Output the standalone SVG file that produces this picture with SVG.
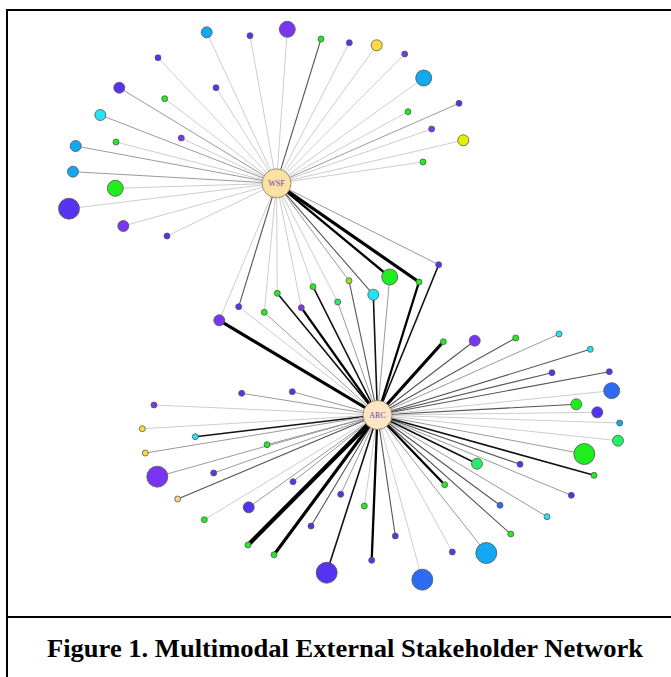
<svg xmlns="http://www.w3.org/2000/svg" width="671" height="677" viewBox="0 0 671 677">
<style>
.e1{stroke:#cdcdcd;stroke-width:1}
.e2{stroke:#9a9a9a;stroke-width:1}
.e3{stroke:#555;stroke-width:1.1}
.e4{stroke:#111;stroke-width:1.6}
.e5{stroke:#000;stroke-width:2.3}
.e6{stroke:#000;stroke-width:3.2}
.e7{stroke:#000;stroke-width:4.2}
circle{stroke:#555;stroke-width:0.8}
.bp{fill:#5533f0}.pu{fill:#7a35f0}.sk{fill:#12a8f2}.cy{fill:#22e4f2}.gr{fill:#1eee1e}.g2{fill:#22ee6a}.lg{fill:#8ee624}
.ye{fill:#ffdc3a}.li{fill:#e2f000}.rb{fill:#2c6cf2}.or{fill:#fcd27a}
.hub1{fill:#fde1a2;stroke:#8a7a5a}.hub2{fill:#fde6c6;stroke:#8a7a5a}
.lbl{font-family:"Liberation Serif",serif;font-size:8px;fill:#6b3fa8;text-anchor:middle}
.frame{stroke:#000;stroke-width:2;fill:none}
</style>
<rect width="671" height="677" fill="#fff"/>
<g id="frame">
<line class="frame" x1="7" y1="10" x2="671" y2="10"/>
<line class="frame" x1="7" y1="9" x2="7" y2="677"/>
<line class="frame" x1="7" y1="617" x2="671" y2="617"/>
</g>
<g id="connectors">
<g id="wsf-edges">
<line class="e1" x1="276.5" y1="183.3" x2="206.7" y2="32.3"/>
<line class="e1" x1="276.5" y1="183.3" x2="250" y2="35.7"/>
<line class="e1" x1="276.5" y1="183.3" x2="287.3" y2="29.3"/>
<line class="e3" x1="276.5" y1="183.3" x2="321" y2="39"/>
<line class="e1" x1="276.5" y1="183.3" x2="158" y2="57.7"/>
<line class="e2" x1="276.5" y1="183.3" x2="119.3" y2="87.7"/>
<line class="e1" x1="276.5" y1="183.3" x2="164.7" y2="98.7"/>
<line class="e1" x1="276.5" y1="183.3" x2="216" y2="87.7"/>
<line class="e2" x1="276.5" y1="183.3" x2="100.3" y2="115"/>
<line class="e1" x1="276.5" y1="183.3" x2="181.3" y2="138"/>
<line class="e1" x1="276.5" y1="183.3" x2="116" y2="142"/>
<line class="e2" x1="276.5" y1="183.3" x2="75.7" y2="146"/>
<line class="e2" x1="276.5" y1="183.3" x2="73" y2="171.7"/>
<line class="e1" x1="276.5" y1="183.3" x2="115.3" y2="188.3"/>
<line class="e1" x1="276.5" y1="183.3" x2="69" y2="208.7"/>
<line class="e1" x1="276.5" y1="183.3" x2="123.3" y2="226"/>
<line class="e1" x1="276.5" y1="183.3" x2="167" y2="236"/>
<line class="e1" x1="276.5" y1="183.3" x2="349.3" y2="42.7"/>
<line class="e1" x1="276.5" y1="183.3" x2="376.7" y2="45.3"/>
<line class="e1" x1="276.5" y1="183.3" x2="404.7" y2="54"/>
<line class="e1" x1="276.5" y1="183.3" x2="423.7" y2="78"/>
<line class="e2" x1="276.5" y1="183.3" x2="459" y2="103.3"/>
<line class="e1" x1="276.5" y1="183.3" x2="408" y2="111.7"/>
<line class="e1" x1="276.5" y1="183.3" x2="431.7" y2="129"/>
<line class="e1" x1="276.5" y1="183.3" x2="463.3" y2="140.3"/>
<line class="e1" x1="276.5" y1="183.3" x2="423" y2="162"/>
<line class="e1" x1="276.5" y1="183.3" x2="219.3" y2="320.3"/>
<line class="e3" x1="276.5" y1="183.3" x2="238.7" y2="306.7"/>
<line class="e1" x1="276.5" y1="183.3" x2="264.3" y2="312.3"/>
<line class="e1" x1="276.5" y1="183.3" x2="277.3" y2="293.3"/>
<line class="e1" x1="276.5" y1="183.3" x2="301.3" y2="307.7"/>
<line class="e1" x1="276.5" y1="183.3" x2="313" y2="286.7"/>
<line class="e1" x1="276.5" y1="183.3" x2="337.7" y2="302"/>
<line class="e2" x1="276.5" y1="183.3" x2="349" y2="280.7"/>
<line class="e3" x1="276.5" y1="183.3" x2="373.3" y2="294.7"/>
<line class="e5" x1="276.5" y1="183.3" x2="389.7" y2="277"/>
<line class="e6" x1="276.5" y1="183.3" x2="419" y2="282"/>
<line class="e2" x1="276.5" y1="183.3" x2="438.7" y2="264.7"/>
</g>
<g id="arc-edges">
<line class="e6" x1="377.5" y1="415" x2="219.3" y2="320.3"/>
<line class="e1" x1="377.5" y1="415" x2="238.7" y2="306.7"/>
<line class="e2" x1="377.5" y1="415" x2="264.3" y2="312.3"/>
<line class="e4" x1="377.5" y1="415" x2="277.3" y2="293.3"/>
<line class="e5" x1="377.5" y1="415" x2="301.3" y2="307.7"/>
<line class="e4" x1="377.5" y1="415" x2="313" y2="286.7"/>
<line class="e2" x1="377.5" y1="415" x2="337.7" y2="302"/>
<line class="e3" x1="377.5" y1="415" x2="349" y2="280.7"/>
<line class="e4" x1="377.5" y1="415" x2="373.3" y2="294.7"/>
<line class="e2" x1="377.5" y1="415" x2="389.7" y2="277"/>
<line class="e5" x1="377.5" y1="415" x2="419" y2="282"/>
<line class="e4" x1="377.5" y1="415" x2="438.7" y2="264.7"/>
<line class="e2" x1="377.5" y1="415" x2="241.7" y2="393.3"/>
<line class="e2" x1="377.5" y1="415" x2="292.3" y2="391.7"/>
<line class="e1" x1="377.5" y1="415" x2="154" y2="405"/>
<line class="e1" x1="377.5" y1="415" x2="142.3" y2="428.7"/>
<line class="e4" x1="377.5" y1="415" x2="195.3" y2="436.7"/>
<line class="e2" x1="377.5" y1="415" x2="267" y2="444.7"/>
<line class="e2" x1="377.5" y1="415" x2="145.3" y2="453"/>
<line class="e2" x1="377.5" y1="415" x2="157.3" y2="476.7"/>
<line class="e2" x1="377.5" y1="415" x2="213.7" y2="473"/>
<line class="e3" x1="377.5" y1="415" x2="177.7" y2="499"/>
<line class="e1" x1="377.5" y1="415" x2="204.3" y2="519.7"/>
<line class="e2" x1="377.5" y1="415" x2="248.7" y2="507.3"/>
<line class="e2" x1="377.5" y1="415" x2="293" y2="481.7"/>
<line class="e7" x1="377.5" y1="415" x2="248" y2="545"/>
<line class="e6" x1="377.5" y1="415" x2="274" y2="554.7"/>
<line class="e3" x1="377.5" y1="415" x2="311" y2="526"/>
<line class="e2" x1="377.5" y1="415" x2="340.7" y2="494.3"/>
<line class="e4" x1="377.5" y1="415" x2="326.7" y2="572.7"/>
<line class="e1" x1="377.5" y1="415" x2="364.3" y2="506"/>
<line class="e5" x1="377.5" y1="415" x2="371.7" y2="560.3"/>
<line class="e3" x1="377.5" y1="415" x2="395.3" y2="536"/>
<line class="e1" x1="377.5" y1="415" x2="422.3" y2="579.7"/>
<line class="e1" x1="377.5" y1="415" x2="452.3" y2="552"/>
<line class="e2" x1="377.5" y1="415" x2="486.3" y2="553"/>
<line class="e3" x1="377.5" y1="415" x2="510.7" y2="534"/>
<line class="e3" x1="377.5" y1="415" x2="500" y2="505.3"/>
<line class="e5" x1="377.5" y1="415" x2="444.7" y2="484.7"/>
<line class="e2" x1="377.5" y1="415" x2="547" y2="516.7"/>
<line class="e2" x1="377.5" y1="415" x2="571.3" y2="495.3"/>
<line class="e4" x1="377.5" y1="415" x2="477" y2="463.7"/>
<line class="e3" x1="377.5" y1="415" x2="520" y2="464.3"/>
<line class="e4" x1="377.5" y1="415" x2="594" y2="475.3"/>
<line class="e2" x1="377.5" y1="415" x2="584.3" y2="454"/>
<line class="e1" x1="377.5" y1="415" x2="618" y2="440.7"/>
<line class="e1" x1="377.5" y1="415" x2="619.7" y2="423"/>
<line class="e1" x1="377.5" y1="415" x2="597.3" y2="412.3"/>
<line class="e3" x1="377.5" y1="415" x2="576.3" y2="404.3"/>
<line class="e1" x1="377.5" y1="415" x2="611.7" y2="390.7"/>
<line class="e3" x1="377.5" y1="415" x2="609.3" y2="371.7"/>
<line class="e3" x1="377.5" y1="415" x2="552" y2="372.7"/>
<line class="e3" x1="377.5" y1="415" x2="590.3" y2="349.3"/>
<line class="e2" x1="377.5" y1="415" x2="559" y2="334"/>
<line class="e3" x1="377.5" y1="415" x2="515.7" y2="338"/>
<line class="e3" x1="377.5" y1="415" x2="474.7" y2="340.7"/>
<line class="e6" x1="377.5" y1="415" x2="443.3" y2="341.7"/>
</g>
</g>
<g id="nodes">
<g id="w1"><circle class="sk" cx="206.7" cy="32.3" r="5.5"/></g>
<g id="w2"><circle class="bp" cx="250" cy="35.7" r="3"/></g>
<g id="w3"><circle class="pu" cx="287.3" cy="29.3" r="8"/></g>
<g id="w4"><circle class="gr" cx="321" cy="39" r="3"/></g>
<g id="w5"><circle class="bp" cx="158" cy="57.7" r="3"/></g>
<g id="w6"><circle class="bp" cx="119.3" cy="87.7" r="5.5"/></g>
<g id="w7"><circle class="gr" cx="164.7" cy="98.7" r="3"/></g>
<g id="w8"><circle class="bp" cx="216" cy="87.7" r="3"/></g>
<g id="w9"><circle class="cy" cx="100.3" cy="115" r="5.5"/></g>
<g id="w10"><circle class="pu" cx="181.3" cy="138" r="3"/></g>
<g id="w11"><circle class="gr" cx="116" cy="142" r="3"/></g>
<g id="w12"><circle class="sk" cx="75.7" cy="146" r="5.5"/></g>
<g id="w13"><circle class="sk" cx="73" cy="171.7" r="5.5"/></g>
<g id="w14"><circle class="gr" cx="115.3" cy="188.3" r="8"/></g>
<g id="w15"><circle class="bp" cx="69" cy="208.7" r="10.5"/></g>
<g id="w16"><circle class="pu" cx="123.3" cy="226" r="5.5"/></g>
<g id="w17"><circle class="bp" cx="167" cy="236" r="3"/></g>
<g id="w18"><circle class="bp" cx="349.3" cy="42.7" r="3"/></g>
<g id="w19"><circle class="ye" cx="376.7" cy="45.3" r="5.5"/></g>
<g id="w20"><circle class="pu" cx="404.7" cy="54" r="3"/></g>
<g id="w21"><circle class="sk" cx="423.7" cy="78" r="8"/></g>
<g id="w22"><circle class="bp" cx="459" cy="103.3" r="3"/></g>
<g id="w23"><circle class="gr" cx="408" cy="111.7" r="3"/></g>
<g id="w24"><circle class="pu" cx="431.7" cy="129" r="3"/></g>
<g id="w25"><circle class="li" cx="463.3" cy="140.3" r="5.5"/></g>
<g id="w26"><circle class="gr" cx="423" cy="162" r="3"/></g>
<g id="s1"><circle class="pu" cx="219.3" cy="320.3" r="5.5"/></g>
<g id="s2"><circle class="bp" cx="238.7" cy="306.7" r="3"/></g>
<g id="s3"><circle class="gr" cx="264.3" cy="312.3" r="3"/></g>
<g id="s4"><circle class="gr" cx="277.3" cy="293.3" r="3"/></g>
<g id="s5"><circle class="pu" cx="301.3" cy="307.7" r="3"/></g>
<g id="s6"><circle class="gr" cx="313" cy="286.7" r="3"/></g>
<g id="s7"><circle class="g2" cx="337.7" cy="302" r="3"/></g>
<g id="s8"><circle class="lg" cx="349" cy="280.7" r="3"/></g>
<g id="s9"><circle class="cy" cx="373.3" cy="294.7" r="5.5"/></g>
<g id="s10"><circle class="gr" cx="389.7" cy="277" r="8"/></g>
<g id="s11"><circle class="gr" cx="419" cy="282" r="3"/></g>
<g id="s12"><circle class="bp" cx="438.7" cy="264.7" r="3"/></g>
<g id="a1"><circle class="bp" cx="241.7" cy="393.3" r="3"/></g>
<g id="a2"><circle class="bp" cx="292.3" cy="391.7" r="3"/></g>
<g id="a3"><circle class="pu" cx="154" cy="405" r="3"/></g>
<g id="a4"><circle class="ye" cx="142.3" cy="428.7" r="3"/></g>
<g id="a5"><circle class="cy" cx="195.3" cy="436.7" r="3"/></g>
<g id="a6"><circle class="gr" cx="267" cy="444.7" r="3"/></g>
<g id="a7"><circle class="ye" cx="145.3" cy="453" r="3"/></g>
<g id="a8"><circle class="pu" cx="157.3" cy="476.7" r="10.5"/></g>
<g id="a9"><circle class="bp" cx="213.7" cy="473" r="3"/></g>
<g id="a10"><circle class="or" cx="177.7" cy="499" r="3"/></g>
<g id="a11"><circle class="gr" cx="204.3" cy="519.7" r="3"/></g>
<g id="a12"><circle class="bp" cx="248.7" cy="507.3" r="5.5"/></g>
<g id="a13"><circle class="bp" cx="293" cy="481.7" r="3"/></g>
<g id="a14"><circle class="gr" cx="248" cy="545" r="3"/></g>
<g id="a15"><circle class="gr" cx="274" cy="554.7" r="3"/></g>
<g id="a16"><circle class="bp" cx="311" cy="526" r="3"/></g>
<g id="a17"><circle class="bp" cx="340.7" cy="494.3" r="3"/></g>
<g id="a18"><circle class="bp" cx="326.7" cy="572.7" r="10.5"/></g>
<g id="a19"><circle class="gr" cx="364.3" cy="506" r="3"/></g>
<g id="a20"><circle class="bp" cx="371.7" cy="560.3" r="3"/></g>
<g id="a21"><circle class="bp" cx="395.3" cy="536" r="3"/></g>
<g id="a22"><circle class="rb" cx="422.3" cy="579.7" r="10.5"/></g>
<g id="a23"><circle class="bp" cx="452.3" cy="552" r="3"/></g>
<g id="a24"><circle class="sk" cx="486.3" cy="553" r="10.5"/></g>
<g id="a25"><circle class="gr" cx="510.7" cy="534" r="3"/></g>
<g id="a26"><circle class="rb" cx="500" cy="505.3" r="3"/></g>
<g id="a27"><circle class="gr" cx="444.7" cy="484.7" r="3"/></g>
<g id="a28"><circle class="cy" cx="547" cy="516.7" r="3"/></g>
<g id="a29"><circle class="bp" cx="571.3" cy="495.3" r="3"/></g>
<g id="a30"><circle class="g2" cx="477" cy="463.7" r="5.5"/></g>
<g id="a31"><circle class="bp" cx="520" cy="464.3" r="3"/></g>
<g id="a32"><circle class="gr" cx="594" cy="475.3" r="3"/></g>
<g id="a33"><circle class="gr" cx="584.3" cy="454" r="10.5"/></g>
<g id="a34"><circle class="g2" cx="618" cy="440.7" r="5.5"/></g>
<g id="a35"><circle class="sk" cx="619.7" cy="423" r="3"/></g>
<g id="a36"><circle class="bp" cx="597.3" cy="412.3" r="5.5"/></g>
<g id="a37"><circle class="gr" cx="576.3" cy="404.3" r="5.5"/></g>
<g id="a38"><circle class="rb" cx="611.7" cy="390.7" r="8"/></g>
<g id="a39"><circle class="bp" cx="609.3" cy="371.7" r="3"/></g>
<g id="a40"><circle class="bp" cx="552" cy="372.7" r="3"/></g>
<g id="a41"><circle class="cy" cx="590.3" cy="349.3" r="3"/></g>
<g id="a42"><circle class="cy" cx="559" cy="334" r="3"/></g>
<g id="a43"><circle class="gr" cx="515.7" cy="338" r="3"/></g>
<g id="a44"><circle class="pu" cx="474.7" cy="340.7" r="5.5"/></g>
<g id="a45"><circle class="gr" cx="443.3" cy="341.7" r="3"/></g>
<g id="WSF"><circle class="hub1" cx="276.5" cy="183.3" r="14.5"/><text class="lbl" x="276.5" y="186.2">WSF</text></g>
<g id="ARC"><circle class="hub2" cx="377.5" cy="415" r="14.5"/><text class="lbl" x="377.5" y="417.9">ARC</text></g>
</g>
<text id="caption" x="345" y="657" font-family="Liberation Serif, serif" font-weight="bold" font-size="26" text-anchor="middle" textLength="596" lengthAdjust="spacingAndGlyphs" fill="#000">Figure 1. Multimodal External Stakeholder Network</text>
</svg>
